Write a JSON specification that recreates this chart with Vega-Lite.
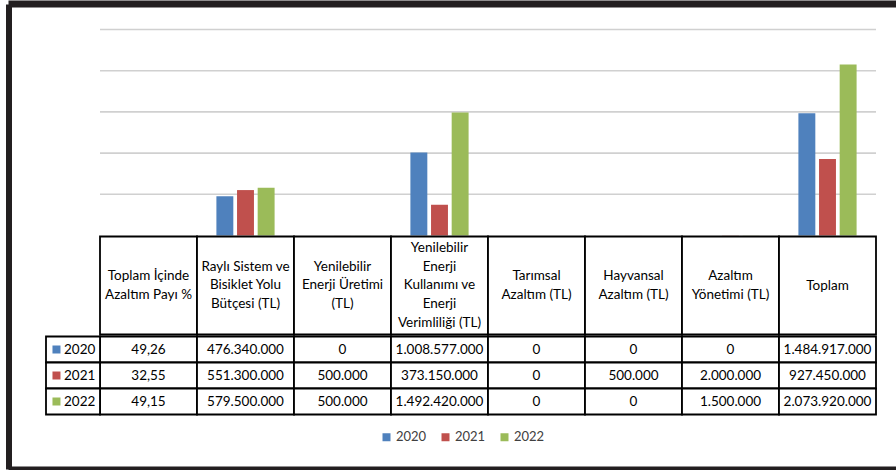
{
  "$schema": "https://vega.github.io/schema/vega-lite/v6.json",
  "background": "white",
  "padding": {"left": 9, "top": 3.5, "right": 0, "bottom": 3.5},
  "spacing": 0,
  "config": {
    "view": {"fill": "white", "stroke": null},
    "font": "Lato",
    "locale": {"number": {"decimal": ",", "thousands": ".", "grouping": [3], "currency": ["", " TL"]}}
  },
  "datasets": {
    "budget": [
      {"kategori": "Toplam İçinde\nAzaltım Payı %", "yil": "2020", "deger": 49.26},
      {"kategori": "Toplam İçinde\nAzaltım Payı %", "yil": "2021", "deger": 32.55},
      {"kategori": "Toplam İçinde\nAzaltım Payı %", "yil": "2022", "deger": 49.15},
      {"kategori": "Raylı Sistem ve\nBisiklet Yolu\nBütçesi (TL)", "yil": "2020", "deger": 476340000},
      {"kategori": "Raylı Sistem ve\nBisiklet Yolu\nBütçesi (TL)", "yil": "2021", "deger": 551300000},
      {"kategori": "Raylı Sistem ve\nBisiklet Yolu\nBütçesi (TL)", "yil": "2022", "deger": 579500000},
      {"kategori": "Yenilebilir\nEnerji Üretimi\n(TL)", "yil": "2020", "deger": 0},
      {"kategori": "Yenilebilir\nEnerji Üretimi\n(TL)", "yil": "2021", "deger": 500000},
      {"kategori": "Yenilebilir\nEnerji Üretimi\n(TL)", "yil": "2022", "deger": 500000},
      {"kategori": "Yenilebilir\nEnerji\nKullanımı ve\nEnerji\nVerimliliği (TL)", "yil": "2020", "deger": 1008577000},
      {"kategori": "Yenilebilir\nEnerji\nKullanımı ve\nEnerji\nVerimliliği (TL)", "yil": "2021", "deger": 373150000},
      {"kategori": "Yenilebilir\nEnerji\nKullanımı ve\nEnerji\nVerimliliği (TL)", "yil": "2022", "deger": 1492420000},
      {"kategori": "Tarımsal\nAzaltım (TL)", "yil": "2020", "deger": 0},
      {"kategori": "Tarımsal\nAzaltım (TL)", "yil": "2021", "deger": 0},
      {"kategori": "Tarımsal\nAzaltım (TL)", "yil": "2022", "deger": 0},
      {"kategori": "Hayvansal\nAzaltım (TL)", "yil": "2020", "deger": 0},
      {"kategori": "Hayvansal\nAzaltım (TL)", "yil": "2021", "deger": 500000},
      {"kategori": "Hayvansal\nAzaltım (TL)", "yil": "2022", "deger": 0},
      {"kategori": "Azaltım\nYönetimi (TL)", "yil": "2020", "deger": 0},
      {"kategori": "Azaltım\nYönetimi (TL)", "yil": "2021", "deger": 2000000},
      {"kategori": "Azaltım\nYönetimi (TL)", "yil": "2022", "deger": 1500000},
      {"kategori": "Toplam", "yil": "2020", "deger": 1484917000},
      {"kategori": "Toplam", "yil": "2021", "deger": 927450000},
      {"kategori": "Toplam", "yil": "2022", "deger": 2073920000}
    ],
    "grid": [
      {"g": 500000000},
      {"g": 1000000000},
      {"g": 1500000000},
      {"g": 2000000000},
      {"g": 2500000000}
    ]
  },
  "resolve": {
    "scale": {"x": "independent", "y": "independent", "color": "independent"},
    "legend": {"color": "independent"}
  },
  "vconcat": [
    {
      "width": 884,
      "height": 228,
      "layer": [
        {
          "data": {"name": "grid"},
          "mark": {"type": "rule", "color": "#d0d0d0", "strokeWidth": 1.6},
          "encoding": {
            "x": {"datum": 0, "type": "quantitative", "scale": {"domain": [-0.113402, 1.025773], "nice": false, "zero": false}, "axis": null},
            "x2": {"datum": 1},
            "y": {"field": "g", "type": "quantitative", "scale": {"domain": [0, 2766990000], "nice": false},
                  "axis": {"orient": "left", "offset": 3, "domainWidth": 6, "domainCap": "square", "domainColor": "#231f20", "labels": false, "ticks": false, "grid": false, "title": null, "translate": 0}}
          }
        },
        {
          "data": {"name": "budget"},
          "mark": {"type": "bar"},
          "encoding": {
            "x": {"field": "kategori", "type": "nominal", "sort": null, "scale": {"type": "band", "paddingInner": 0, "paddingOuter": 0.5567, "align": 0.8148, "round": false},
                  "axis": {"orient": "top", "offset": 3.5, "domainWidth": 7, "domainCap": "square", "domainColor": "#231f20", "labels": false, "ticks": false, "grid": false, "title": null, "translate": 0}},
            "xOffset": {"field": "yil", "type": "nominal", "scale": {"paddingInner": 0.18, "paddingOuter": 0.94}},
            "y": {"field": "deger", "type": "quantitative", "scale": {"domain": [0, 2766990000], "nice": false},
                  "axis": {"orient": "left", "offset": 3, "domainWidth": 6, "domainCap": "square", "domainColor": "#231f20", "labels": false, "ticks": false, "grid": false, "title": null, "translate": 0}},
            "color": {"field": "yil", "type": "nominal", "scale": {"domain": ["2020", "2021", "2022"], "range": ["#4f81bd", "#c0504d", "#9bbb59"]}, "legend": null}
          }
        }
      ],
      "resolve": {"scale": {"x": "independent"}}
    },
    {
      "width": 884,
      "height": 98,
      "data": {"name": "budget"},
      "transform": [{"filter": "datum.yil == '2020'"}],
      "encoding": {
        "x": {"field": "kategori", "type": "nominal", "sort": null, "scale": {"type": "band", "paddingInner": 0, "paddingOuter": 0.5567, "align": 0.8148, "round": false}, "axis": null}
      },
      "layer": [
        {"mark": {"type": "rect", "fill": "white", "stroke": "#000000", "strokeWidth": 1.8}},
        {
          "mark": {"type": "text", "lineBreak": "\n", "font": "Lato", "fontSize": 13.5, "lineHeight": 18.7, "color": "#000000", "baseline": "middle", "align": "center",
                   "dy": {"expr": "-(length(split(datum.kategori, '\\n')) - 1) * 9.35"}},
          "encoding": {
            "text": {"field": "kategori"},
            "y": {"datum": 0.5, "type": "quantitative", "scale": {"domain": [0, 1], "nice": false, "zero": false},
                  "axis": {"orient": "left", "offset": 3, "domainWidth": 6, "domainCap": "square", "domainColor": "#231f20", "labels": false, "ticks": false, "grid": false, "title": null, "translate": 0}}
          }
        }
      ]
    },
    {
      "width": 884,
      "height": 130,
      "data": {"name": "budget"},
      "layer": [
        {
          "mark": {"type": "rect", "fill": "white", "stroke": "#000000", "strokeWidth": 1.8},
          "encoding": {
            "x": {"field": "kategori", "type": "nominal", "sort": null, "scale": {"type": "band", "paddingInner": 0, "paddingOuter": 0.5567, "align": 0.8148, "round": false},
                  "axis": {"orient": "bottom", "offset": 3.5, "domainWidth": 7, "domainCap": "square", "domainColor": "#231f20", "labels": false, "ticks": false, "grid": false, "title": null, "translate": 0}},
            "y": {"field": "yil", "type": "nominal", "scale": {"type": "band", "paddingInner": 0, "paddingOuter": 1, "align": 0, "round": false},
                  "axis": {"orient": "left", "offset": 3, "domainWidth": 6, "domainCap": "square", "domainColor": "#231f20", "labels": false, "ticks": false, "grid": false, "title": null, "translate": 0}}
          }
        },
        {
          "mark": {"type": "text", "font": "Lato", "fontSize": 13.5, "color": "#000000", "baseline": "middle", "align": "center"},
          "encoding": {
            "x": {"field": "kategori", "type": "nominal", "sort": null, "scale": {"type": "band", "paddingInner": 0, "paddingOuter": 0.5567, "align": 0.8148, "round": false}, "axis": null},
            "y": {"field": "yil", "type": "nominal", "scale": {"type": "band", "paddingInner": 0, "paddingOuter": 1, "align": 0, "round": false},
                  "axis": {"orient": "left", "offset": 3, "domainWidth": 6, "domainCap": "square", "domainColor": "#231f20", "labels": false, "ticks": false, "grid": false, "title": null, "translate": 0}},
            "text": {"field": "deger", "type": "quantitative", "format": ",.2~f"}
          }
        },
        {
          "transform": [{"filter": "datum.kategori == 'Toplam'"}],
          "mark": {"type": "rect", "fill": "white", "stroke": "#000000", "strokeWidth": 1.8},
          "encoding": {
            "x": {"datum": 0, "type": "quantitative", "scale": {"domain": [-0.6296, 15.741], "nice": false, "zero": false}, "axis": null},
            "x2": {"datum": 1},
            "y": {"field": "yil", "type": "nominal", "scale": {"type": "band", "paddingInner": 0, "paddingOuter": 1, "align": 0, "round": false},
                  "axis": {"orient": "left", "offset": 3, "domainWidth": 6, "domainCap": "square", "domainColor": "#231f20", "labels": false, "ticks": false, "grid": false, "title": null, "translate": 0}}
          }
        },
        {
          "transform": [{"filter": "datum.kategori == 'Toplam'"}],
          "mark": {"type": "point", "shape": "square", "filled": true, "size": 64, "opacity": 1},
          "encoding": {
            "x": {"datum": 0.194, "type": "quantitative", "scale": {"domain": [-0.6296, 15.741], "nice": false, "zero": false}, "axis": null},
            "y": {"field": "yil", "type": "nominal", "scale": {"type": "band", "paddingInner": 0, "paddingOuter": 1, "align": 0, "round": false},
                  "axis": {"orient": "left", "offset": 3, "domainWidth": 6, "domainCap": "square", "domainColor": "#231f20", "labels": false, "ticks": false, "grid": false, "title": null, "translate": 0}},
            "color": {
              "field": "yil", "type": "nominal",
              "scale": {"domain": ["2020", "2021", "2022"], "range": ["#4f81bd", "#c0504d", "#9bbb59"]},
              "legend": {"orient": "none", "legendX": 368, "legendY": 94, "direction": "horizontal", "title": null, "padding": 0, "symbolType": "square", "symbolSize": 64, "symbolStrokeWidth": 0, "labelFont": "Lato", "labelFontSize": 13, "labelColor": "#404040", "labelOffset": 3, "columnPadding": 12}
            }
          }
        },
        {
          "transform": [{"filter": "datum.kategori == 'Toplam'"}],
          "mark": {"type": "text", "font": "Lato", "fontSize": 13.5, "color": "#000000", "baseline": "middle", "align": "left"},
          "encoding": {
            "x": {"datum": 0.333, "type": "quantitative", "scale": {"domain": [-0.6296, 15.741], "nice": false, "zero": false}, "axis": null},
            "y": {"field": "yil", "type": "nominal", "scale": {"type": "band", "paddingInner": 0, "paddingOuter": 1, "align": 0, "round": false},
                  "axis": {"orient": "left", "offset": 3, "domainWidth": 6, "domainCap": "square", "domainColor": "#231f20", "labels": false, "ticks": false, "grid": false, "title": null, "translate": 0}},
            "text": {"field": "yil"}
          }
        }
      ],
      "resolve": {"scale": {"x": "independent"}}
    }
  ]
}
